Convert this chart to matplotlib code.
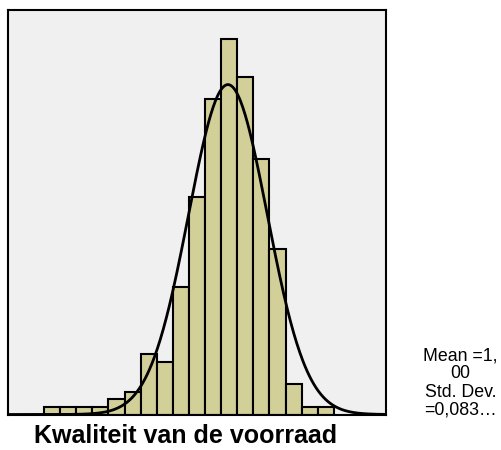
import numpy as np
import matplotlib.pyplot as plt

# histogram counts per bin (left to right)
counts = [1, 1, 1, 1, 2, 3, 8, 7, 17, 29, 42, 50, 45, 34, 22, 4, 1, 1]
bin_start = 0.6117
bin_width = 0.034
mean = 1.00
std_dev = 0.083
n_total = sum(counts)
x_range = (0.5357, 1.3337)

plt.rcParams['font.family'] = ['Liberation Sans', 'DejaVu Sans']

fig = plt.figure(figsize=(5.01, 4.5), dpi=100)
ax = fig.add_axes([8 / 501, 35.5 / 450, 378 / 501, 404.5 / 450])
ax.set_facecolor('#f0f0f0')

edges = bin_start + bin_width * np.arange(len(counts) + 1)
ax.bar(edges[:-1], counts, width=bin_width, align='edge',
       color='#d3cf98', edgecolor='black', linewidth=1.5)

# normal curve scaled to the histogram
x = np.linspace(x_range[0], x_range[1], 500)
pdf = n_total * bin_width / (std_dev * np.sqrt(2 * np.pi)) * np.exp(-(x - mean) ** 2 / (2 * std_dev ** 2))
ax.plot(x, pdf, color='black', linewidth=2)

ax.set_xlim(*x_range)
ax.set_ylim(0, 53.9)
ax.set_xticks([])
ax.set_yticks([])
for s in ax.spines.values():
    s.set_linewidth(1.5)

fig.text(186 / 501, 1 - 436 / 450, 'Kwaliteit van de voorraad', ha='center', va='center',
         fontsize=18, fontweight='bold')
fig.text(460.5 / 501, 1 - 383 / 450, 'Mean =1,\n00\nStd. Dev.\n=0,083…', ha='center', va='center',
         fontsize=12.8, linespacing=1.08)

fig.savefig('out.png', dpi=100)
